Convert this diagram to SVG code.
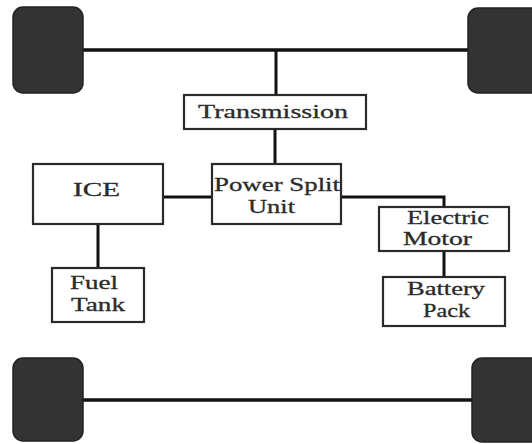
<svg xmlns="http://www.w3.org/2000/svg" width="532" height="444" viewBox="0 0 532 444">
<style>
.wheel{fill:#333;stroke:#222;stroke-width:1.5}
.box{fill:#fff;stroke:#2a2a2a;stroke-width:2.2}
.line{fill:none;stroke:#111;stroke-width:3}
.axle{fill:none;stroke:#111;stroke-width:3.5}
text{font-family:"Liberation Serif","Times New Roman",serif;font-size:19px;fill:#2b2b2b;stroke:#2b2b2b;stroke-width:0.3;text-anchor:middle}
</style>
<rect width="532" height="444" fill="#fff"/>
<g id="connectors">
<line class="axle" x1="83" y1="50" x2="469" y2="50"/>
<line class="axle" x1="83" y1="400" x2="473" y2="400"/>
<line class="line" x1="276" y1="50" x2="276" y2="95"/>
<line class="line" x1="275" y1="129" x2="275" y2="164"/>
<line class="line" x1="163" y1="197" x2="212" y2="197"/>
<polyline class="line" points="341,197 444,197 444,207"/>
<line class="line" x1="98" y1="224" x2="98" y2="268"/>
<line class="line" x1="444" y1="251" x2="444" y2="277"/>
</g>
<g id="wheel-top-left"><rect class="wheel" x="13" y="7" width="70" height="86" rx="10"/></g>
<g id="wheel-top-right"><rect class="wheel" x="468" y="8" width="74" height="85" rx="10"/></g>
<g id="wheel-bottom-left"><rect class="wheel" x="13" y="358" width="70" height="83" rx="10"/></g>
<g id="wheel-bottom-right"><rect class="wheel" x="472" y="358" width="70" height="84" rx="10"/></g>
<g id="transmission">
<rect class="box" x="184" y="95" width="182" height="34"/>
<text x="273" y="118" textLength="150" lengthAdjust="spacingAndGlyphs">Transmission</text>
</g>
<g id="power-split-unit">
<rect class="box" x="212" y="164" width="129" height="60"/>
<text x="277" y="191" textLength="126" lengthAdjust="spacingAndGlyphs">Power Split</text>
<text x="271.5" y="213" textLength="47" lengthAdjust="spacingAndGlyphs">Unit</text>
</g>
<g id="ice">
<rect class="box" x="33" y="164" width="130" height="60"/>
<text x="96.5" y="196" textLength="47" lengthAdjust="spacingAndGlyphs">ICE</text>
</g>
<g id="electric-motor">
<rect class="box" x="379" y="207" width="130" height="44"/>
<text x="448" y="224" textLength="82" lengthAdjust="spacingAndGlyphs">Electric</text>
<text x="437.5" y="245" textLength="69" lengthAdjust="spacingAndGlyphs">Motor</text>
</g>
<g id="battery-pack">
<rect class="box" x="383" y="277" width="122" height="49"/>
<text x="446" y="295" textLength="78" lengthAdjust="spacingAndGlyphs">Battery</text>
<text x="446.5" y="317" textLength="47" lengthAdjust="spacingAndGlyphs">Pack</text>
</g>
<g id="fuel-tank">
<rect class="box" x="52" y="268" width="92" height="54"/>
<text x="94" y="289" textLength="48" lengthAdjust="spacingAndGlyphs">Fuel</text>
<text x="98" y="311" textLength="54" lengthAdjust="spacingAndGlyphs">Tank</text>
</g>
</svg>
